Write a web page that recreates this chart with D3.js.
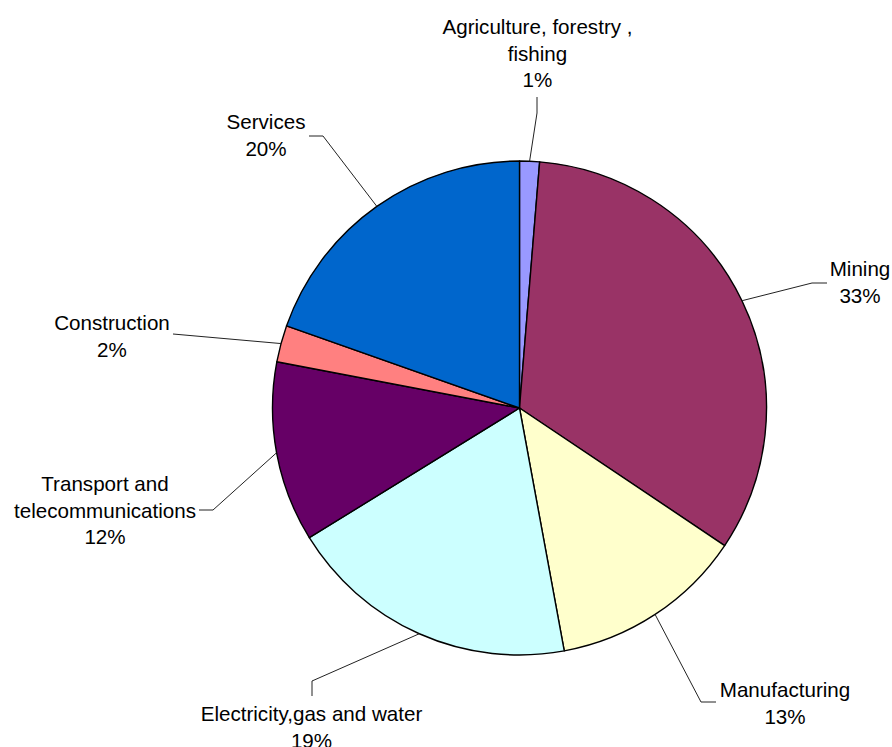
<!DOCTYPE html>
<html>
<head>
<meta charset="utf-8">
<script src="https://cdn.jsdelivr.net/npm/d3@7"></script>
<style>
  html, body { margin: 0; padding: 0; background: #fff; }
  svg { display: block; }
  text { font-family: Arial, "Liberation Sans", sans-serif; font-size: 20.6px; fill: #000; }
</style>
</head>
<body>
<svg id="chart" width="892" height="747"></svg>
<script>
// ---- data ----
const categories = [
  ["Agriculture, forestry ,", "fishing"],
  ["Mining"],
  ["Manufacturing"],
  ["Electricity,gas and water"],
  ["Transport and", "telecommunications"],
  ["Construction"],
  ["Services"]
];
const values = [1.3, 33.1, 12.7, 19.1, 11.8, 2.4, 19.6];
const colors = ["#9999FF", "#993366", "#FFFFCC", "#CCFFFF", "#660066", "#FF8080", "#0066CC"];

// ---- layout (label anchors & leader elbows) ----
const labelLayout = [
  { x: 537.5, y: 34,  elbow: [537, 113], end: [537, 97] },
  { x: 860,   y: 276, elbow: [812, 283], end: [827, 283] },
  { x: 785,   y: 697, elbow: [701, 702], end: [716, 702] },
  { x: 311.5, y: 721, elbow: [312, 681], end: [312, 696] },
  { x: 105,   y: 491, elbow: [213, 510], end: [199, 510] },
  { x: 112,   y: 330, elbow: [173, 334], end: [173, 334] },
  { x: 266,   y: 129, elbow: [323, 136], end: [309, 136] }
];

const W = 892, H = 747;
const cx = 519.5, cy = 408, R = 247;
const lineH = 26.5;

const svg = d3.select("#chart");
const g = svg.append("g").attr("transform", `translate(${cx},${cy})`);

const total = d3.sum(values);
const pie = d3.pie().sort(null).value(d => d).startAngle(0).endAngle(2 * Math.PI);
const arcs = pie(values);
const arc = d3.arc().innerRadius(0).outerRadius(R);

g.selectAll("path.slice")
  .data(arcs)
  .enter().append("path")
  .attr("class", "slice")
  .attr("d", arc)
  .attr("fill", (d, i) => colors[i])
  .attr("stroke", "#000")
  .attr("stroke-width", 1.4)
  .attr("stroke-linejoin", "round");

// leader lines
arcs.forEach((d, i) => {
  const a = (d.startAngle + d.endAngle) / 2;
  const px = cx + R * Math.sin(a), py = cy - R * Math.cos(a);
  const L = labelLayout[i];
  svg.append("polyline")
    .attr("points", [[px, py], L.elbow, L.end].map(p => p.join(",")).join(" "))
    .attr("fill", "none")
    .attr("stroke", "#222")
    .attr("stroke-width", 1);
});

// labels
arcs.forEach((d, i) => {
  const L = labelLayout[i];
  const lines = categories[i].concat([Math.round(values[i] / total * 100) + "%"]);
  const t = svg.append("text").attr("text-anchor", "middle");
  lines.forEach((s, k) => {
    t.append("tspan").attr("x", L.x).attr("y", L.y + k * lineH).text(s);
  });
});
</script>
</body>
</html>
